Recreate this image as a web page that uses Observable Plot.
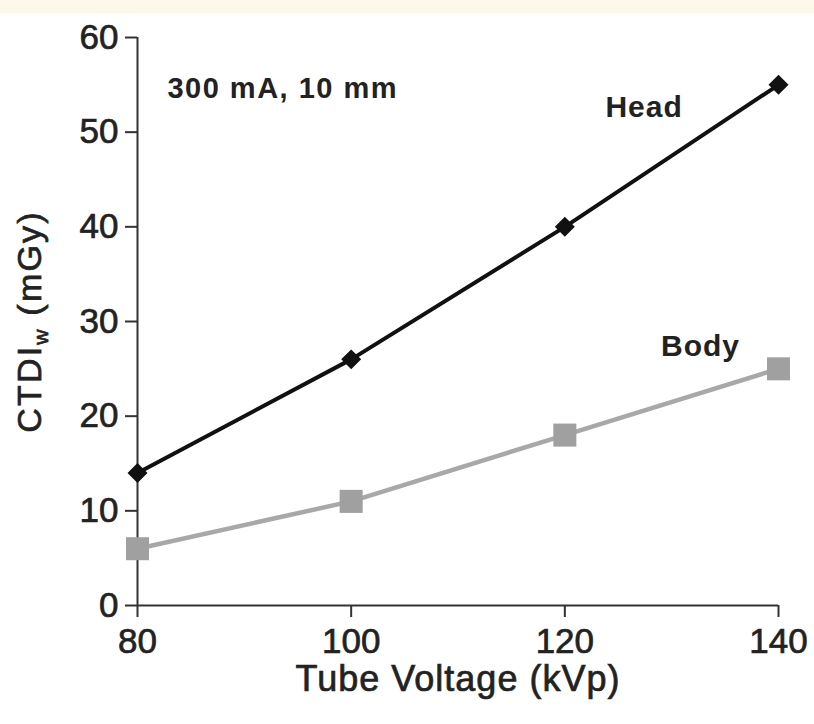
<!DOCTYPE html>
<html>
<head>
<meta charset="utf-8">
<script src="https://cdn.jsdelivr.net/npm/d3@7"></script>
<script src="https://cdn.jsdelivr.net/npm/@observablehq/plot@0.6"></script>
<style>
  html, body { margin: 0; padding: 0; background: #fff; }
  #wrap { position: relative; width: 814px; height: 724px; overflow: hidden; }
  #strip { position: absolute; left: 0; top: 0; width: 814px; height: 13px; background: #fcf8ea; z-index: 2; }
</style>
</head>
<body>
<div id="wrap"><div id="strip"></div></div>
<script>
// ---- data ----
const kvp = [80, 100, 120, 140];
const headValues = [14, 26, 40, 55];
const bodyValues = [6, 11, 18, 25];
const yTicks = [0, 10, 20, 30, 40, 50, 60];
const xTicks = [80, 100, 120, 140];
const xTitle = "Tube Voltage (kVp)";
const yTitle = "CTDIw (mGy)";
const noteText = ["300 mA, 10 mm"];
const noteX = [82.8];
const noteY = [54.6];
const seriesLabels = ["Head", "Body"];
const seriesLabelX = [123.8, 129.0];
const seriesLabelY = [52.6, 27.4];

const head = kvp.map((k, i) => ({kvp: k, v: headValues[i]}));
const body = kvp.map((k, i) => ({kvp: k, v: bodyValues[i]}));
const notes = noteText.map((t, i) => ({t, x: noteX[i], y: noteY[i]}));
const sLabels = seriesLabels.map((t, i) => ({t, x: seriesLabelX[i], y: seriesLabelY[i]}));

const plot = Plot.plot({
  width: 814,
  height: 724,
  marginLeft: 137,
  marginRight: 36,
  marginTop: 37,
  marginBottom: 119,
  style: {fontFamily: "'Liberation Sans', Arial, sans-serif", color: "#222", background: "transparent", overflow: "visible"},
  x: {domain: [80, 140]},
  y: {domain: [0, 60]},
  marks: [
    Plot.axisY(yTicks, {tickSize: 12, tickPadding: 7, fontSize: 35, label: null, stroke: "#333", strokeWidth: 2, strokeOpacity: 1}),
    Plot.axisX(xTicks, {tickSize: 12, tickPadding: 11, fontSize: 35, label: null, stroke: "#333", strokeWidth: 2, strokeOpacity: 1}),
    Plot.ruleX([80], {y1: 0, y2: 60, stroke: "#333", strokeWidth: 2}),
    Plot.ruleY([0], {x1: 80, x2: 140, stroke: "#333", strokeWidth: 2}),
    Plot.line(body, {x: "kvp", y: "v", stroke: "#a8a8a8", strokeWidth: 4.5}),
    Plot.dot(body, {x: "kvp", y: "v", symbol: "square", r: 13, fill: "#a0a0a0", stroke: "none"}),
    Plot.line(head, {x: "kvp", y: "v", stroke: "#111", strokeWidth: 4}),
    Plot.dot(head, {x: "kvp", y: "v", symbol: "diamond2", r: 9, fill: "#111", stroke: "none"}),
    Plot.text(notes, {x: "x", y: "y", text: "t", textAnchor: "start", fontSize: 29, fontWeight: "bold", fill: "#222"}),
    Plot.text(sLabels, {x: "x", y: "y", text: "t", textAnchor: "start", fontSize: 30, fontWeight: "bold", fill: "#222"}),
    Plot.text([xTitle], {frameAnchor: "bottom", textAnchor: "middle", dy: 73.5, lineAnchor: "middle", fontSize: 36, fill: "#222"}),
    Plot.text([yTitle], {frameAnchor: "left", textAnchor: "middle", dx: -107, rotate: -90, lineAnchor: "middle", fontSize: 34, fill: "#222"})
  ]
});

document.getElementById("wrap").appendChild(plot);

const svg = d3.select(plot);
svg.selectAll("text").each(function() {
  const el = d3.select(this);
  const txt = this.textContent;
  const bold = txt === noteText[0] || seriesLabels.includes(txt);
  if (!bold) {
    el.style("stroke", "#222").style("stroke-width", "0.7px").style("paint-order", "stroke");
  }
  if (txt === yTitle) {
    el.text(null);
    el.attr("letter-spacing", 2.2);
    el.append("tspan").text("CTDI");
    el.append("tspan").attr("dy", 7).attr("font-size", 21).text("w");
    el.append("tspan").attr("dy", -7).text(" (mGy)");
  } else if (txt === noteText[0]) {
    el.attr("letter-spacing", 1.5);
  } else if (seriesLabels.includes(txt)) {
    el.attr("letter-spacing", 1);
  } else if (txt === xTitle) {
    el.attr("letter-spacing", 1);
  }
});
</script>
</body>
</html>
